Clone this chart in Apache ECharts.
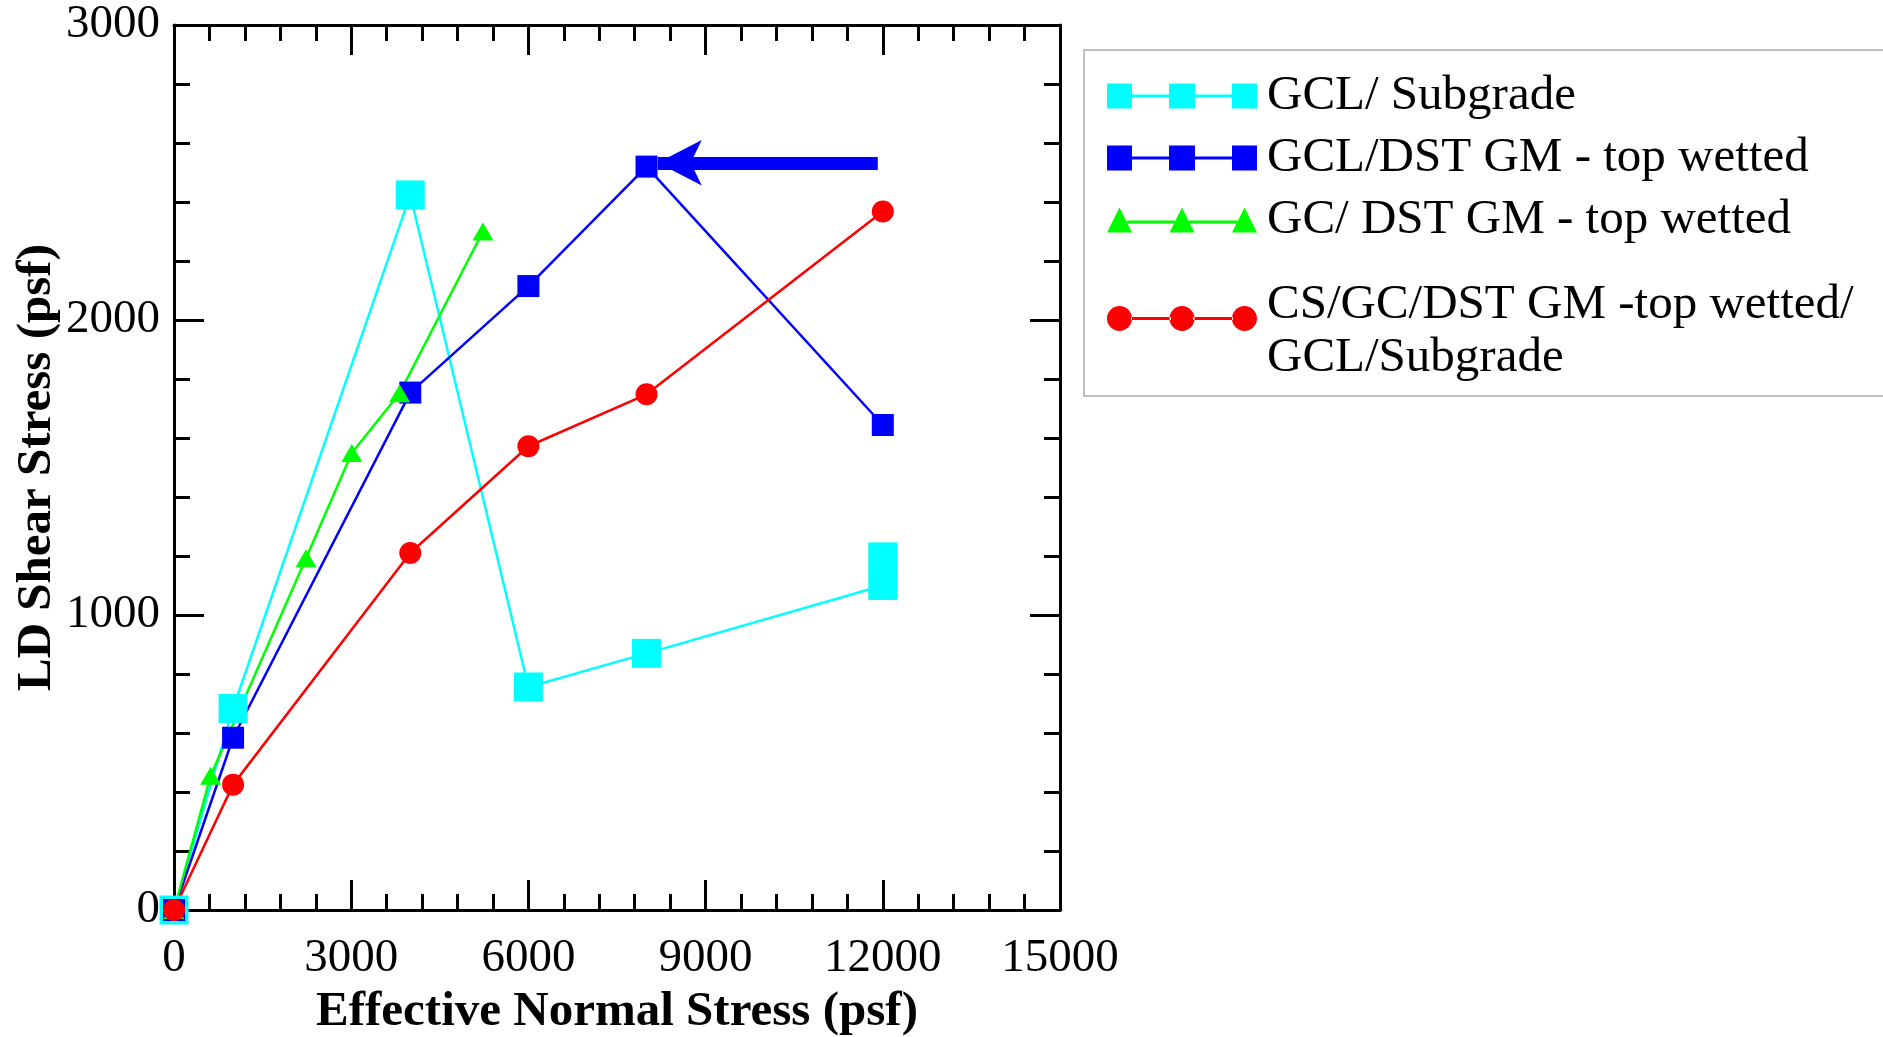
<!DOCTYPE html>
<html>
<head>
<meta charset="utf-8">
<script src="https://cdn.jsdelivr.net/npm/echarts@6/dist/echarts.min.js"></script>
<style>
  html, body { margin: 0; padding: 0; background: #fff; }
  #chart { width: 1883px; height: 1037px; }
</style>
</head>
<body>
<div id="chart"></div>
<script>
// data (psf)
var seriesNames = ['GCL/ Subgrade', 'GCL/DST GM - top wetted', 'GC/ DST GM - top wetted', 'CS/GC/DST GM -top wetted/ GCL/Subgrade'];

var cyanX = [0, 1000, 4000, 6000, 8000, 12000, 12000];
var cyanY = [0, 683, 2424, 756, 870, 1100, 1197];

var blueX = [0, 1000, 4000, 6000, 8000, 12000];
var blueY = [0, 584, 1754, 2115, 2520, 1644];

var greenX = [0, 620, 2235, 3010, 3820, 5230];
var greenY = [0, 455, 1192, 1549, 1752, 2300];

var redX = [0, 1000, 4000, 6000, 8000, 12000];
var redY = [0, 425, 1210, 1572, 1748, 2368];

// arrow pointing at the blue peak
var arrowFrom = [11915, 2533];
var arrowTo = [8190, 2533];

var xTicks = [0, 3000, 6000, 9000, 12000, 15000];
var yTicks = [0, 1000, 2000, 3000];

function pairs(xs, ys) {
  var out = [];
  for (var i = 0; i < xs.length; i++) out.push([xs[i], ys[i]]);
  return out;
}

var FONT = 'Liberation Serif';
var LEGEND_FONT = 49;

// legend icons: three markers joined by a line
var iconSquares = 'path://M0,0H25V25H0Z M62,0H88V25H62Z M125,0H150V25H125Z M25,11H62V14H25Z M88,11H125V14H88Z';
var iconTriangles = 'path://M0,25L12.5,0L25,25Z M62.5,25L75,0L87.5,25Z M125,25L137.5,0L150,25Z M20,13H68V16H20Z M82,13H130V16H82Z';
var iconCircles = 'path://M0,12.5A12.5,12.5 0 1,0 25,12.5A12.5,12.5 0 1,0 0,12.5Z M62.5,12.5A12.5,12.5 0 1,0 87.5,12.5A12.5,12.5 0 1,0 62.5,12.5Z M125,12.5A12.5,12.5 0 1,0 150,12.5A12.5,12.5 0 1,0 125,12.5Z M24,11H64V14H24Z M86,11H126V14H86Z';

function valueAxis(opt) {
  var base = {
    type: 'value',
    min: opt.min,
    max: opt.max,
    interval: opt.interval,
    position: opt.position,
    axisLine: { show: true, onZero: false, lineStyle: { color: '#000', width: 3 } },
    axisTick: { show: true, inside: true, length: 30, lineStyle: { color: '#000', width: 3 } },
    minorTick: { show: true, splitNumber: 5, length: 16, lineStyle: { color: '#000', width: 3 } },
    splitLine: { show: false },
    minorSplitLine: { show: false },
    axisLabel: {
      show: opt.labels, color: '#000', fontFamily: FONT, fontSize: 47, margin: opt.margin,
      showMinLabel: true, showMaxLabel: true,
      formatter: function (v) { return String(v); }
    }
  };
  if (opt.name) {
    base.name = opt.name;
    base.nameLocation = 'middle';
    base.nameGap = opt.nameGap;
    base.nameTextStyle = { color: '#000', fontFamily: FONT, fontSize: 49, fontWeight: 'bold' };
  }
  return base;
}

var chart = echarts.init(document.getElementById('chart'));

var legendText = { color: '#000', fontFamily: FONT, fontSize: LEGEND_FONT, lineHeight: 54, padding: [0, 0, 0, 5] };

var option = {
  animation: false,
  backgroundColor: '#fff',
  grid: { left: 174, top: 25, width: 886, height: 885, containLabel: false, outerBoundsMode: 'none' },
  legend: [
    {
      // first three entries, carries the frame for the whole key
      orient: 'vertical',
      left: 1084,
      top: 50,
      padding: [19, 80, 149, 23],
      borderColor: '#aaaaaa',
      borderWidth: 1.5,
      itemWidth: 150,
      itemHeight: 25,
      itemGap: 8,
      selectedMode: false,
      itemStyle: { borderWidth: 0 },
      textStyle: legendText,
      data: [
        { name: seriesNames[0], icon: iconSquares },
        { name: seriesNames[1], icon: iconSquares },
        { name: seriesNames[2], icon: iconTriangles }
      ]
    },
    {
      // two-line entry
      orient: 'vertical',
      left: 1084,
      top: 281,
      padding: [0, 0, 0, 23],
      itemWidth: 150,
      itemHeight: 25,
      selectedMode: false,
      itemStyle: { borderWidth: 0 },
      textStyle: {
        color: '#000', fontFamily: FONT, fontSize: LEGEND_FONT, padding: [0, 0, 0, 5],
        rich: {
          a: { color: '#000', fontFamily: FONT, fontSize: LEGEND_FONT, lineHeight: 80 },
          b: { color: '#000', fontFamily: FONT, fontSize: LEGEND_FONT, lineHeight: 26 }
        }
      },
      formatter: function () {
        return '{a|CS/GC/DST GM -top wetted/}\n{b|GCL/Subgrade}';
      },
      data: [{ name: seriesNames[3], icon: iconCircles }]
    }
  ],
  xAxis: [
    valueAxis({ min: xTicks[0], max: xTicks[xTicks.length - 1], interval: xTicks[1] - xTicks[0], position: 'bottom', labels: true, margin: 25,
      name: 'Effective Normal Stress (psf)', nameGap: 78 }),
    valueAxis({ min: xTicks[0], max: xTicks[xTicks.length - 1], interval: xTicks[1] - xTicks[0], position: 'top', labels: false })
  ],
  yAxis: [
    valueAxis({ min: yTicks[0], max: yTicks[yTicks.length - 1], interval: yTicks[1] - yTicks[0], position: 'left', labels: true, margin: 14,
      name: 'LD Shear Stress (psf)', nameGap: 110 }),
    valueAxis({ min: yTicks[0], max: yTicks[yTicks.length - 1], interval: yTicks[1] - yTicks[0], position: 'right', labels: false })
  ],
  series: [
    {
      name: seriesNames[0],
      type: 'line',
      data: pairs(cyanX, cyanY),
      clip: false,
      symbol: 'rect',
      symbolSize: [29, 29],
      color: '#00ffff',
      lineStyle: { color: '#00ffff', width: 2.5 },
      itemStyle: { color: '#00ffff', borderWidth: 0 }
    },
    {
      name: seriesNames[1],
      type: 'line',
      data: pairs(blueX, blueY),
      clip: false,
      symbol: 'rect',
      symbolSize: [22, 22],
      color: '#0000ff',
      lineStyle: { color: '#0000ff', width: 2.5 },
      itemStyle: { color: '#0000ff', borderWidth: 0 },
      markLine: {
        silent: true,
        animation: false,
        symbol: ['none', 'arrow'],
        symbolSize: [34, 44],
        label: { show: false },
        lineStyle: { color: '#0000ff', width: 13, type: 'solid' },
        data: [[{ coord: arrowFrom }, { coord: arrowTo }]]
      }
    },
    {
      name: seriesNames[2],
      type: 'line',
      data: pairs(greenX, greenY),
      clip: false,
      symbol: 'triangle',
      symbolSize: [21, 18],
      color: '#00ff00',
      lineStyle: { color: '#00ff00', width: 2.5 },
      itemStyle: { color: '#00ff00', borderWidth: 0 }
    },
    {
      name: seriesNames[3],
      type: 'line',
      data: pairs(redX, redY),
      clip: false,
      symbol: 'circle',
      symbolSize: 22,
      color: '#ff0000',
      lineStyle: { color: '#ff0000', width: 2.5 },
      itemStyle: { color: '#ff0000', borderWidth: 0 }
    }
  ]
};

chart.setOption(option);
</script>
</body>
</html>
